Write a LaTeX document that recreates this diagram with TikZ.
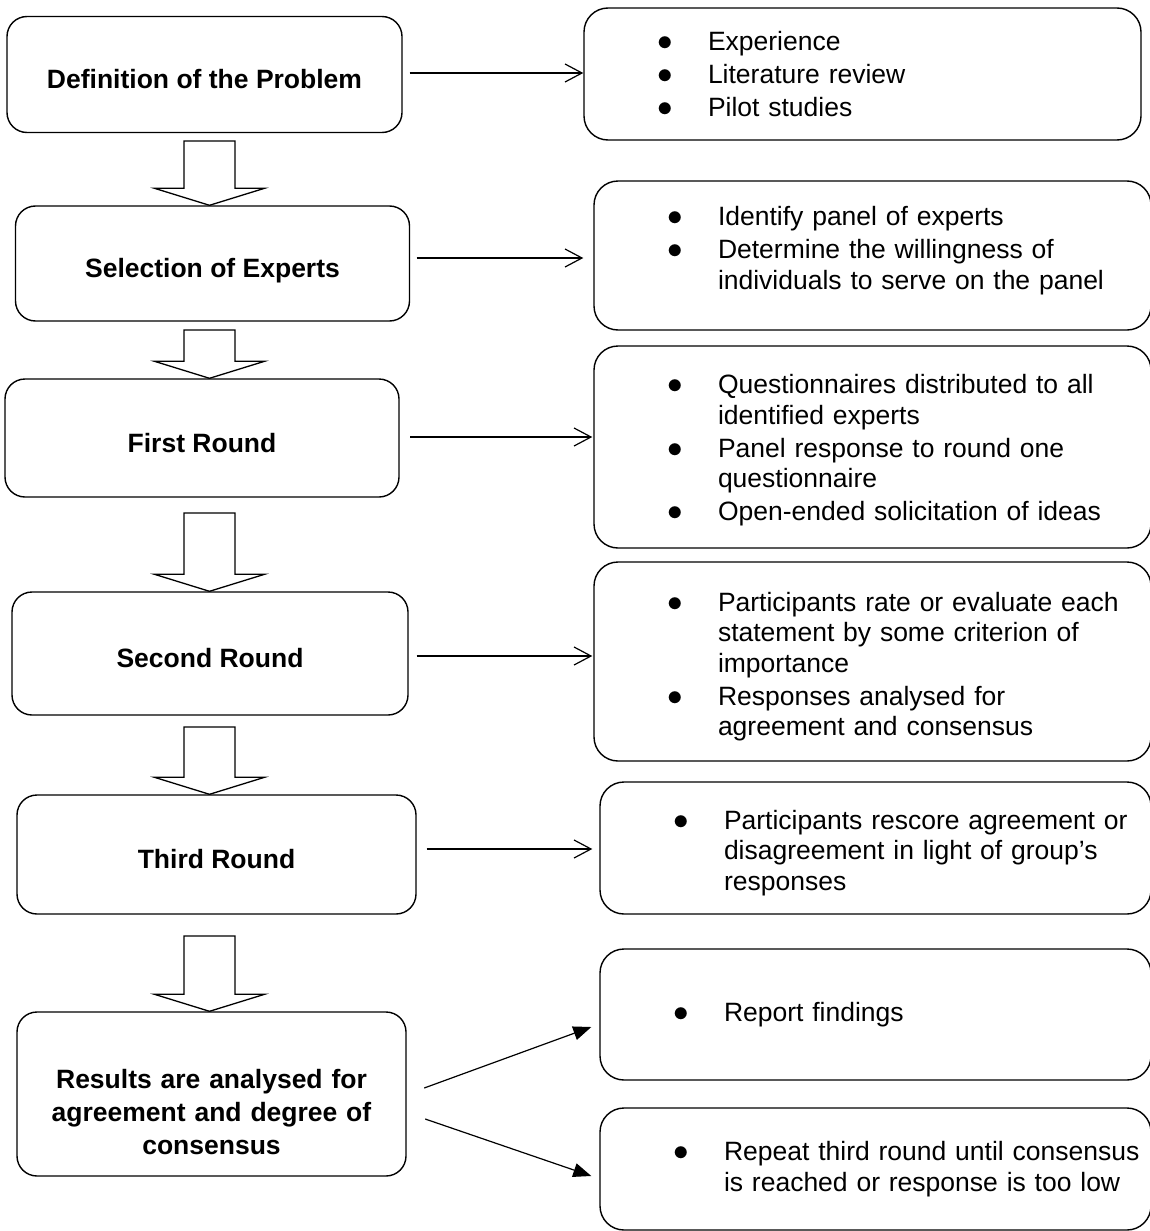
\documentclass[tikz,border=0pt]{standalone}
\usepackage{fontspec}
\setmainfont{Liberation Sans}
\usetikzlibrary{arrows.meta,calc}

% one bullet point of a right hand box
\newcommand{\itm}[1]{\noindent\hangindent=124pt\hangafter=1%
  \makebox[124pt][l]{\hspace{73.7pt}\scalebox{1.25}{$\bullet$}}#1\par}

\tikzset{
  stage/.style={draw, line width=1.4pt, rounded corners=20pt, inner sep=0pt,
    font=\fontsize{26.5}{33}\selectfont\bfseries, text height=29pt, text depth=1pt},
  info/.style={draw, line width=1.4pt, rounded corners=24pt, inner xsep=0pt,
    text width=#1, align=left, font=\fontsize{26.5}{30.5}\selectfont,
    execute at begin node={\setlength{\parskip}{2.5pt}}},
  info/.default=557pt,
  flow/.style={-{Straight Barb[length=17pt,width=18pt]}, line width=1.2pt},
  split/.style={-{Triangle[length=18pt,width=14pt]}, line width=1.2pt},
  block/.style={line width=1.3pt, to path={let \p1=(\tikztostart), \p2=(\tikztotarget) in
    (\x1-25.5pt,\y1) -- (\x1+25.5pt,\y1) -- (\x1+25.5pt,\y2+17pt) -- (\x1+55pt,\y2+17pt)
    -- (\x1,\y2) -- (\x1-55pt,\y2+17pt) -- (\x1-25.5pt,\y2+17pt) -- cycle}}
}

\begin{document}
\begin{tikzpicture}[x=1pt,y=-1pt]
  \useasboundingbox (0,0) rectangle (1150,1231);

  % stages
  \node[stage, minimum width=395pt, minimum height=116pt] (defn) at (204.5,74.5) {Definition of the Problem};
  \node[stage, minimum width=394pt, minimum height=115pt] (select) at (212.5,263.5) {Selection of Experts};
  \node[stage, minimum width=394pt, minimum height=118pt] (first) at (202,438) {First Round};
  \node[stage, minimum width=396pt, minimum height=123pt] (second) at (210,653.5) {Second Round};
  \node[stage, minimum width=399pt, minimum height=119pt] (third) at (216.5,854.5) {Third Round};
  \node[stage, minimum width=389pt, minimum height=164pt, text width=389pt, align=center,
    text height=20pt, text depth=32pt] (result) at (211.5,1094)
    {Results are analysed for\\ agreement and degree of\\ consensus};

  % details
  \node[info, minimum height=132pt] (exper) at (862.5,74)
    {\itm{Experience}\itm{Literature review}\itm{Pilot studies}};
  \node[info, minimum height=149pt, text height=9.3pt] (panel) at (872.5,255.5)
    {\itm{Identify panel of experts}\itm{Determine the willingness of\newline individuals to serve on the panel}};
  \node[info, minimum height=202pt, text height=26.3pt] (quest) at (872.5,447)
    {\itm{Questionnaires distributed to all\newline identified experts}\itm{Panel response to round one\newline questionnaire}\itm{Open-ended solicitation of ideas}};
  \node[info, minimum height=199pt, text height=29.3pt] (rate) at (872.5,661.5)
    {\itm{Participants rate or evaluate each\newline statement by some criterion of\newline importance}\itm{Responses analysed for\newline agreement and consensus}};
  \node[info=551pt, minimum height=132pt, text height=29.3pt] (rescore) at (875.5,848)
    {\itm{Participants rescore agreement or\newline disagreement in light of group’s\newline responses}};
  \node[info=551pt, minimum height=131pt] (report) at (875.5,1014.5)
    {\itm{Report findings}};
  \node[info=551pt, minimum height=122pt] (repeat) at (875.5,1169)
    {\itm{Repeat third round until consensus\newline is reached or response is too low}};

  % block arrows down the left
  \foreach \top/\nxt in {141/select, 330/first, 513/second, 727/third, 936/result} {
    \coordinate (top\nxt) at (209.5,\top);
    \draw[block] (top\nxt) to (\nxt.north);
  }

  % arrows to the details
  \foreach \a/\b/\dx/\dy/\ex in {defn/exper/7/1.5/0, select/panel/6.5/5.5/-10,
      first/quest/10.5/1/-1, second/rate/8/-2.5/-1, third/rescore/10/5.5/-7} {
    \draw[flow] ([xshift=\dx pt, yshift=\dy pt]\a.east) coordinate (tail)
      -- ([xshift=\ex pt]tail -| \b.west);
  }
  \draw[split] ([xshift=17.5pt, yshift=6pt]result.east) -- ([xshift=-8pt, yshift=-12.5pt]report.west);
  \draw[split] ([xshift=18.5pt, yshift=-25pt]result.east) -- ([xshift=-8pt, yshift=-7pt]repeat.west);
\end{tikzpicture}
\end{document}
